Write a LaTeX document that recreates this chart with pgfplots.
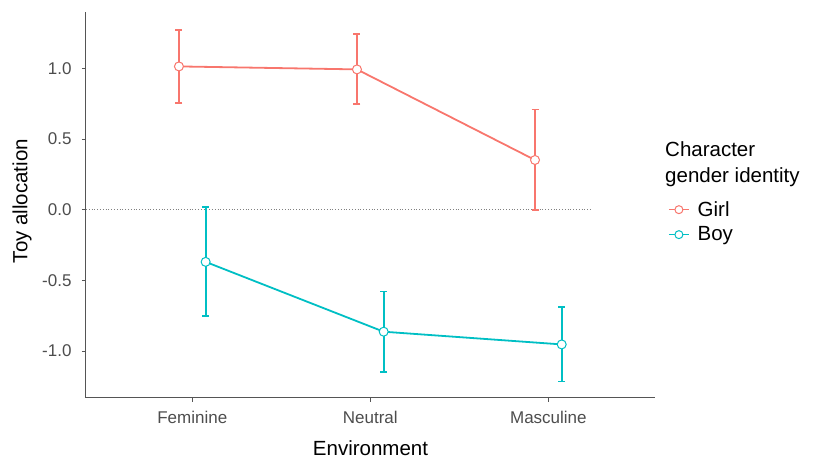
\documentclass[border=0pt]{standalone}
\usepackage{fontspec}
\setmainfont{Liberation Sans}
\usepackage{pgfplots}
\usepackage{pgfplotstable}
\pgfplotsset{compat=1.18}
\definecolor{girl}{HTML}{F8766D}
\definecolor{boy}{HTML}{00BFC4}
\definecolor{tickgray}{HTML}{4D4D4D}
\definecolor{axgray}{HTML}{555555}

\pgfplotstableread{
x y ep em
-0.075 1.014 0.260 0.260
0.925 0.993 0.248 0.246
1.925 0.352 0.357 0.355
}\girldata
\pgfplotstableread{
x y ep em
0.075 -0.369 0.386 0.385
1.075 -0.863 0.284 0.284
2.075 -0.953 0.263 0.262
}\boydata

\begin{document}
\begin{tikzpicture}
\begin{axis}[
  name=ax,
  scale only axis,
  width=569pt, height=385.4pt,
  xmin=-0.597, xmax=2.599, ymin=-1.330, ymax=1.397,
  axis lines*=left,
  axis line style={draw=axgray, line width=1pt},
  xtick={0,1,2}, xticklabels={Feminine,Neutral,Masculine},
  ytick={-1,-0.5,0,0.5,1}, yticklabels={-1.0,-0.5,0.0,0.5,1.0},
  tick align=outside, major tick length=4pt,
  tick style={draw=axgray, line width=1pt},
  ticklabel style={font=\fontsize{17}{20}\selectfont, text=tickgray},
  xticklabel style={yshift=-6pt},
  yticklabel style={xshift=-7pt},
  xlabel={Environment}, ylabel={Toy allocation},
  label style={font=\fontsize{20.5}{24}\selectfont},
  xlabel style={at={(axis description cs:0.5,-0.1495)}, anchor=base},
  ylabel style={at={(axis description cs:-0.1125,0.51)}, anchor=center},
  clip=false,
  legend style={at={(1.0228,0.456)}, anchor=west, draw=none, fill=none,
    font=\fontsize{20.5}{24}\selectfont, inner sep=0pt, row sep=5pt, column sep=6pt,
    cells={anchor=west}},
  legend image code/.code={\draw[mark repeat=2,mark phase=2] plot coordinates {(0pt,0pt)(10pt,0pt)(20pt,0pt)};},
]
\addplot[gray, dotted, line width=0.8pt, forget plot] coordinates {(-0.597,0) (2.238,0)};

\addplot[girl, line width=1.8pt, no marks, forget plot,
  error bars/.cd, y dir=both, y explicit,
  error bar style={line width=1.8pt},
  error mark options={rotate=90, mark size=3.5pt, line width=1.8pt}]
  table[x=x, y=y, y error plus=ep, y error minus=em]{\girldata};
\addplot[boy, line width=1.8pt, no marks, forget plot,
  error bars/.cd, y dir=both, y explicit,
  error bar style={line width=1.8pt},
  error mark options={rotate=90, mark size=3.5pt, line width=1.8pt}]
  table[x=x, y=y, y error plus=ep, y error minus=em]{\boydata};
\addplot[girl, only marks, mark=*, mark size=4.5pt, mark options={fill=white, line width=1pt}, forget plot]
  table[x=x, y=y]{\girldata};
\addplot[boy, only marks, mark=*, mark size=4.5pt, mark options={fill=white, line width=1pt}, forget plot]
  table[x=x, y=y]{\boydata};

\addlegendimage{girl, line width=1.5pt, mark=*, mark size=4pt, mark options={fill=white, line width=1pt}}
\addlegendentry{Girl}
\addlegendimage{boy, line width=1.5pt, mark=*, mark size=4pt, mark options={fill=white, line width=1pt}}
\addlegendentry{Boy}
\end{axis}
\node[anchor=base west, font=\fontsize{20.5}{24}\selectfont, inner sep=0pt] at ([xshift=579pt, yshift=240.7pt]ax.south west) {Character};
\node[anchor=base west, font=\fontsize{20.5}{24}\selectfont, inner sep=0pt] at ([xshift=579pt, yshift=214.7pt]ax.south west) {gender identity};
\pgfresetboundingbox
\path[use as bounding box] ([xshift=-86pt, yshift=-60.3pt]ax.south west) rectangle ++(814pt,458pt);
\end{tikzpicture}
\end{document}
